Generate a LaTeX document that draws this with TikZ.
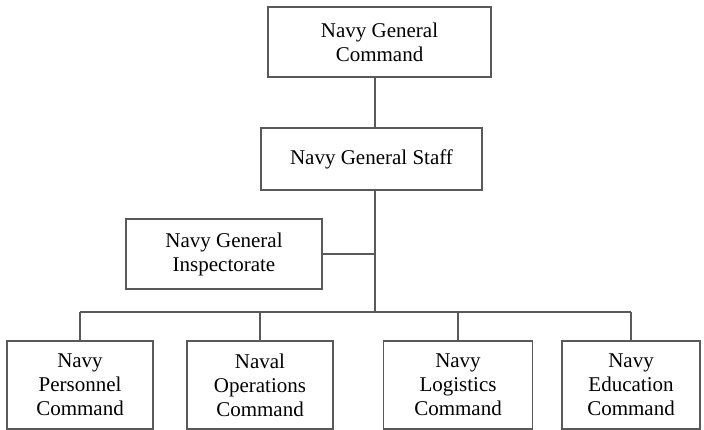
\documentclass[tikz,border=0pt]{standalone}
\usepackage{fontspec}
\setmainfont{Liberation Serif}
\begin{document}
\begin{tikzpicture}[x=1pt,y=-1pt,
  unit/.style={draw=black!65, line width=1.1pt, rectangle, align=center,
    font=\fontsize{21}{24}\selectfont, inner sep=0pt},
  link/.style={draw=black!65, line width=1.1pt}]
  \useasboundingbox (0,0) rectangle (704,430);
  % command levels
  \node[unit, minimum width=223, minimum height=70] (cmd) at (379.5,42) {Navy General\\Command};
  \node[unit, minimum width=221, minimum height=62] (staff) at (371.5,159) {Navy General Staff};
  \node[unit, minimum width=196, minimum height=70] (insp) at (224,254) {Navy General\\Inspectorate};
  % subordinate commands
  \node[unit, minimum width=146, minimum height=88] (pers) at (80,385) {Navy\\Personnel\\Command};
  \node[unit, minimum width=146, minimum height=88] (ops) at (260,385) {Naval\\Operations\\Command};
  \node[unit, minimum width=149, minimum height=88] (log) at (458,385) {Navy\\Logistics\\Command};
  \node[unit, minimum width=138, minimum height=88] (edu) at (631,385) {Navy\\Education\\Command};
  % trunk and bus
  \coordinate (busL) at (80,312);
  \coordinate (busR) at (631,312);
  \coordinate (busM) at (375,312);
  \draw[link] (cmd.south -| busM) -- (staff.north -| busM);
  \draw[link] (staff.south -| busM) -- (busM);
  \draw[link] (insp.east) -- (insp.east -| busM);
  \draw[link] (busL) -- (busR);
  \draw[link] (busL) -- (pers.north);
  \draw[link] (ops.north |- busL) -- (ops.north);
  \draw[link] (log.north |- busL) -- (log.north);
  \draw[link] (busR) -- (edu.north);
\end{tikzpicture}
\end{document}
